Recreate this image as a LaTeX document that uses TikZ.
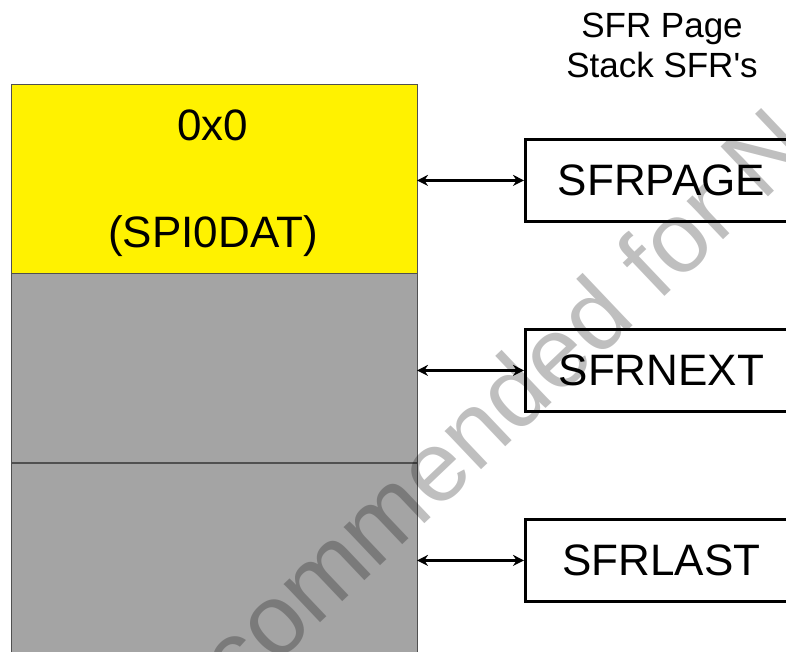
\documentclass[tikz,border=0pt]{standalone}
\usepackage{fontspec}
\setmainfont{Liberation Sans}
\usetikzlibrary{arrows.meta}
\definecolor{grayfill}{RGB}{164,164,164}
\definecolor{edgegray}{RGB}{80,80,80}
\begin{document}
\begin{tikzpicture}[x=1pt,y=-1pt,
  stackbox/.style={draw=edgegray, line width=1pt, minimum width=406pt, minimum height=189pt, anchor=north west, inner sep=0pt, outer sep=0pt},
  regbox/.style={draw, line width=2.8pt, minimum width=272pt, minimum height=82pt, anchor=north west, inner sep=0pt, font=\fontsize{44}{52}\selectfont},
  lbl/.style={font=\fontsize{44}{52}\selectfont, inner sep=0pt, anchor=base},
  head/.style={font=\fontsize{35}{40}\selectfont, inner sep=0pt, anchor=base},
  link/.style={{Stealth[length=11pt,width=11pt]}-{Stealth[length=11pt,width=11pt]}, line width=2.2pt},
  wmark/.style={rotate=43.5, text=black, text opacity=0.25, font=\fontsize{100}{100}\selectfont, inner sep=0pt}]
\useasboundingbox (0,0) rectangle (786,651);
\fill[white] (0,0) rectangle (786,651);
% memory stack
\node[stackbox, fill=yellow] (s0) at (11,84) {};
\node[stackbox, fill=grayfill] (s1) at (11,273) {};
\node[stackbox, fill=grayfill] (s2) at (11,463) {};
\node[lbl] (t0) at (213,140) {0x0};
\node[lbl] (t1) at (213,247) {(SPI0DAT)};
% header
\node[head] (h1) at (662,37) {SFR Page};
\node[head] (h2) at (662,77) {Stack SFR\textquotesingle s};
% register boxes
\node[regbox] (rp) at (524,138) {SFRPAGE};
\node[regbox] (rn) at (524,328) {SFRNEXT};
\node[regbox] (rl) at (524,518) {SFRLAST};
% connectors
\draw[link] (rp.west -| s0.east) -- (rp.west);
\draw[link] (rn.west -| s1.east) -- (rn.west);
\draw[link] (rl.west -| s2.east) -- (rl.west);
% watermark
\node[wmark] (wm) at (584,337) {Not Recommended for New Designs};
\end{tikzpicture}
\end{document}
